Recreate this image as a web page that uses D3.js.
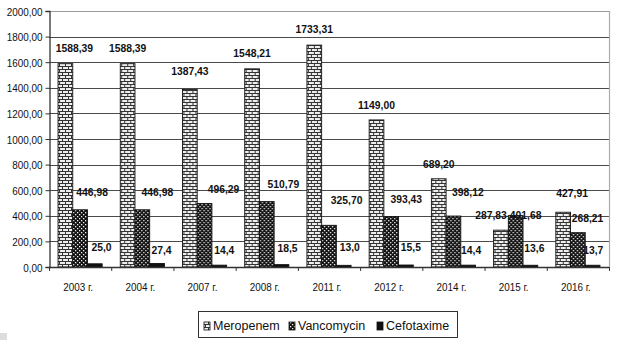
<!DOCTYPE html>
<html>
<head>
<meta charset="utf-8">
<script src="https://cdn.jsdelivr.net/npm/d3@7"></script>
<style>
  html, body { margin: 0; padding: 0; background: #fff; }
  svg { display: block; }
  text { font-family: "Liberation Sans", Arial, sans-serif; fill: #111; }
</style>
</head>
<body>
<svg id="chart" width="617" height="342"></svg>
<script>
// Antibiotic consumption by year
const categories = ["2003 г.", "2004 г.", "2007 г.", "2008 г.", "2011 г.", "2012 г.", "2014 г.", "2015 г.", "2016 г."];
const seriesNames = ["Meropenem", "Vancomycin", "Cefotaxime"];
const meropenem  = [1588.39, 1588.39, 1387.43, 1548.21, 1733.31, 1149.00, 689.20, 287.83, 427.91];
const vancomycin = [446.98, 446.98, 496.29, 510.79, 325.70, 393.43, 398.12, 401.68, 268.21];
const cefotaxime = [25.0, 27.4, 14.4, 18.5, 13.0, 15.5, 14.4, 13.6, 13.7];
const yTicks = [0, 200, 400, 600, 800, 1000, 1200, 1400, 1600, 1800, 2000];
const labelDecimals = [2, 2, 1];

// Hand-placed label nudges [dx, dy] relative to the bar's top centre
const labelNudge = [
  [[9, -16], [0, -16], [0, -18], [0, -15.5], [0, -16], [0, -15], [0, -15], [-10, -15], [9, -19]],
  [[12, -18], [15, -18], [19, -14], [16.6, -18], [17.6, -25], [15, -18], [14.4, -23.7], [10, -0.6], [9.6, -14.4]],
  [[6.7, -17], [4.5, -13.5], [5, -15], [6, -16.6], [6, -18.6], [5, -18.3], [3, -15], [4, -17], [0.7, -15]]
];

const values = [meropenem, vancomycin, cefotaxime];
const svg = d3.select("#chart");
const plotLeft = 49, plotRight = 609, plotTop = 11, plotBottom = 267;
const fmt = (v, d) => v.toFixed(d).replace(".", ",");
const squeeze = 0.9;

// Fill patterns
const defs = svg.append("defs");
const brick = defs.append("pattern").attr("id", "brick").attr("patternUnits", "userSpaceOnUse")
  .attr("width", 6).attr("height", 6);
brick.append("rect").attr("width", 6).attr("height", 6).attr("fill", "#eee");
brick.append("path").attr("d", "M0,0.5H6M0,3.5H6M1.5,0V3M4.5,3V6").attr("stroke", "#333").attr("stroke-width", 1);
const check = defs.append("pattern").attr("id", "check").attr("patternUnits", "userSpaceOnUse")
  .attr("width", 4).attr("height", 4);
check.append("rect").attr("width", 4).attr("height", 4).attr("fill", "#111");
check.append("rect").attr("x", 0).attr("y", 0).attr("width", 1.3).attr("height", 1.3).attr("fill", "#eee");
check.append("rect").attr("x", 2).attr("y", 2).attr("width", 1.3).attr("height", 1.3).attr("fill", "#eee");
const fills = ["url(#brick)", "url(#check)", "#111"];

const x0 = d3.scaleBand().domain(categories).range([plotLeft, plotRight]).padding(0);
const x1 = d3.scaleBand().domain(seriesNames).range([0, x0.bandwidth()]).paddingInner(0).paddingOuter(0.615);
const y = d3.scaleLinear().domain([0, 2000]).range([plotBottom, plotTop]);

// Gridlines and plot frame
svg.append("g").selectAll("line").data(yTicks.filter(t => t > 0)).join("line")
  .attr("x1", plotLeft).attr("x2", plotRight)
  .attr("y1", d => Math.round(y(d)) + 0.5).attr("y2", d => Math.round(y(d)) + 0.5)
  .attr("stroke", d => d === 2000 ? "#9a9a9a" : "#4a4a4a").attr("stroke-width", 1.2);
svg.append("line").attr("x1", plotRight + 0.5).attr("x2", plotRight + 0.5).attr("y1", plotTop).attr("y2", plotBottom)
  .attr("stroke", "#aaa").attr("stroke-width", 1.2);

// Y axis
const yAxis = d3.axisLeft(y).tickValues(yTicks).tickSize(4).tickFormat(d => fmt(d, 2));
const gy = svg.append("g").attr("transform", `translate(${plotLeft + 0.5},0)`).call(yAxis);
gy.select(".domain").attr("stroke", "#333").attr("stroke-width", 1.3);
gy.selectAll(".tick line").attr("stroke", "#333");
gy.selectAll(".tick text").attr("x", null).attr("dy", null)
  .attr("transform", `translate(-7,4) scale(${squeeze},1)`)
  .style("font-size", "11px").style("font-family", "'Liberation Sans', Arial, sans-serif").attr("fill", "#111");

// Bars
const groups = svg.append("g").selectAll("g").data(categories).join("g")
  .attr("transform", d => `translate(${x0(d)},0)`);
groups.selectAll("rect").data((c, i) => seriesNames.map((s, k) => ({ s, k, v: values[k][i] }))).join("rect")
  .attr("x", d => x1(d.s)).attr("width", x1.bandwidth())
  .attr("y", d => y(d.v)).attr("height", d => y(0) - y(d.v))
  .attr("fill", d => fills[d.k]).attr("stroke", "#111").attr("stroke-width", 0.9);

// X axis
svg.append("line").attr("x1", plotLeft).attr("x2", plotRight).attr("y1", plotBottom + 0.5).attr("y2", plotBottom + 0.5)
  .attr("stroke", "#333").attr("stroke-width", 1.3);
const boundaries = categories.map(c => x0(c)).concat([plotRight]);
svg.append("g").selectAll("line").data(boundaries).join("line")
  .attr("x1", d => d + 0.5).attr("x2", d => d + 0.5).attr("y1", plotBottom).attr("y2", plotBottom + 4)
  .attr("stroke", "#333");
svg.append("g").selectAll("text").data(categories).join("text")
  .attr("transform", d => `translate(${x0(d) + x0.bandwidth() / 2 - 2},291) scale(${squeeze},1)`)
  .attr("text-anchor", "middle").style("font-size", "11px").text(d => d);

// Value labels
const labels = [];
categories.forEach((c, i) => seriesNames.forEach((s, k) => {
  labels.push({ c, s, k, i, v: values[k][i] });
}));
svg.append("g").selectAll("text").data(labels).join("text")
  .attr("transform", d => {
    const [dx, dy] = labelNudge[d.k][d.i];
    const cx = x0(d.c) + x1(d.s) + x1.bandwidth() / 2 + dx;
    const cy = y(d.v) + dy + 4;
    return `translate(${cx},${cy}) scale(${squeeze},1)`;
  })
  .attr("text-anchor", "middle").style("font-size", "11.5px").style("font-weight", "bold")
  .text(d => fmt(d.v, labelDecimals[d.k]));

// Legend
const legend = svg.append("g");
legend.append("rect").attr("x", 198.5).attr("y", 311.5).attr("width", 259).attr("height", 26)
  .attr("fill", "#fff").attr("stroke", "#333").attr("stroke-width", 1);
const legendX = [204, 289, 377];
seriesNames.forEach((s, k) => {
  legend.append("rect").attr("x", legendX[k]).attr("y", 322).attr("width", 6).attr("height", 8)
    .attr("fill", fills[k]).attr("stroke", "#111").attr("stroke-width", 0.8);
  legend.append("text").attr("x", legendX[k] + 9).attr("y", 330)
    .style("font-size", "12.5px").text(s);
});

// Small grey marker at lower-left corner
svg.append("rect").attr("x", 0).attr("y", 333).attr("width", 7).attr("height", 7).attr("fill", "#ddd");
</script>
</body>
</html>
